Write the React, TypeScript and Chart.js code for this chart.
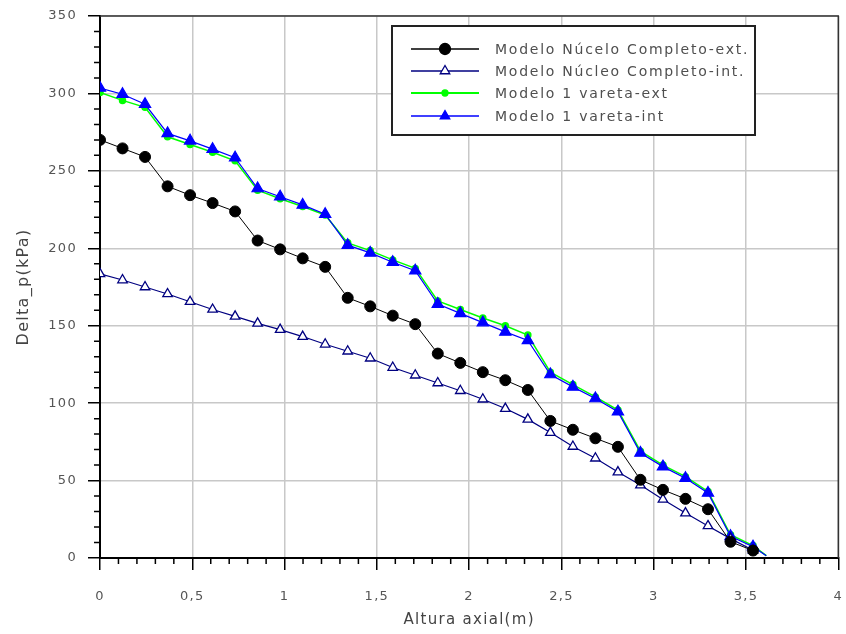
import React, { useEffect, useRef } from "react";
import { Chart, registerables } from "chart.js";

Chart.register(...registerables);

// Axial position of each node (m)
const alturaAxial = [
  0, 0.122, 0.244, 0.366, 0.488, 0.61, 0.732, 0.854, 0.976, 1.098, 1.22, 1.342, 1.464, 1.586, 1.708,
  1.83, 1.952, 2.074, 2.196, 2.318, 2.44, 2.562, 2.684, 2.806, 2.928, 3.05, 3.172, 3.294, 3.416, 3.538,
];
// Single-rod model has one extra end node (outlet)
const alturaVareta = [...alturaAxial, 3.61];

// Delta_p (kPa)
const nucleoExt = [
  270, 264.5, 259, 240, 234.3, 229.2, 223.8, 205, 199.3, 193.5, 188, 168, 162.5, 156.5, 151, 132, 126,
  120, 114.8, 108.5, 88.5, 82.8, 77.3, 71.8, 50.5, 44, 38.2, 31.5, 10.5, 4.8,
];
const nucleoInt = [
  183.5, 179.5, 175, 170.5, 165.5, 160.5, 156, 151.5, 147.5, 143, 138, 133.5, 129, 123, 118, 113, 108,
  102.5, 96.5, 89.5, 81, 72, 64.4, 55.5, 47.1, 37.8, 29, 20.7, 12.5, 5,
];
const varetaExt = [
  300.6, 295.5, 291, 272, 267, 262, 256.5, 237.5, 232, 227, 221.5, 203.5, 198.5, 192.5, 187, 166, 160.5,
  155, 150, 144, 120, 112, 104, 95.5, 69, 60, 52.5, 43, 15, 8, 1.5,
];
const varetaInt = [
  303.5, 299.5, 293, 274.2, 269.4, 264, 258.5, 238.6, 233.3, 228, 222, 202, 197, 191, 185.5, 164, 158,
  152, 146, 140.5, 118.5, 110.5, 103, 94.5, 67.8, 59, 51.5, 42, 14, 7.3, 1.5,
];

const seriesLabels = [
  "Modelo Núcelo Completo-ext.",
  "Modelo Núcleo Completo-int.",
  "Modelo 1 vareta-ext",
  "Modelo 1 vareta-int",
];

const X_MAX = 4;
const Y_MAX = 350;

const pairs = (xs: number[], ys: number[]) => ys.map((y, i) => ({ x: xs[i], y }));

type Marker = { shape: "circle" | "triangle"; r: number; fill: string; stroke: string; line: string; lw: number };
const markers: Marker[] = [
  { shape: "circle", r: 5.5, fill: "#000000", stroke: "#000000", line: "#000000", lw: 1 },
  { shape: "triangle", r: 5.5, fill: "#ffffff", stroke: "#000080", line: "#000080", lw: 1.2 },
  { shape: "circle", r: 3, fill: "#00ff00", stroke: "#00ff00", line: "#00ff00", lw: 1.5 },
  { shape: "triangle", r: 6.5, fill: "#0000ff", stroke: "#0000ff", line: "#0000ff", lw: 1.2 },
];

function drawMarker(ctx: CanvasRenderingContext2D, m: Marker, x: number, y: number) {
  ctx.beginPath();
  if (m.shape === "circle") {
    ctx.arc(x, y, m.r, 0, Math.PI * 2);
  } else {
    const h = m.r * 1.5;
    const s = m.r * Math.sqrt(3);
    ctx.moveTo(x, y - h * 2 / 3);
    ctx.lineTo(x + s / 2, y + h / 3);
    ctx.lineTo(x - s / 2, y + h / 3);
    ctx.closePath();
  }
  ctx.fillStyle = m.fill;
  ctx.fill();
  ctx.strokeStyle = m.stroke;
  ctx.lineWidth = 1.3;
  ctx.stroke();
}

// Letter-spaced text for axes, plus frame, minor ticks and the boxed legend
const decorPlugin = {
  id: "decor",
  beforeDraw(chart: any) {
    chart.ctx.letterSpacing = "1.3px";
  },
  afterDraw(chart: any) {
    const { ctx, chartArea, scales } = chart;
    const { left, right, top, bottom } = chartArea;
    ctx.save();
    // frame top / right
    ctx.strokeStyle = "#333333";
    ctx.lineWidth = 1.5;
    ctx.beginPath();
    ctx.moveTo(left, top);
    ctx.lineTo(right, top);
    ctx.lineTo(right, bottom);
    ctx.stroke();

    // minor ticks
    ctx.strokeStyle = "#000000";
    ctx.lineWidth = 1.5;
    ctx.beginPath();
    for (let k = 1; k < X_MAX * 10; k++) {
      if (k % 5 === 0) continue;
      const px = scales.x.getPixelForValue(k / 10);
      ctx.moveTo(px, bottom);
      ctx.lineTo(px, bottom + 6);
    }
    for (let k = 1; k < Y_MAX / 10; k++) {
      if (k % 5 === 0) continue;
      const py = scales.y.getPixelForValue(k * 10);
      ctx.moveTo(left, py);
      ctx.lineTo(left - 6, py);
    }
    ctx.stroke();

    // legend
    const bx = 392, by = 26, bw = 363, bh = 109;
    ctx.fillStyle = "#ffffff";
    ctx.fillRect(bx, by, bw, bh);
    ctx.strokeStyle = "#222222";
    ctx.lineWidth = 2;
    ctx.strokeRect(bx, by, bw, bh);
    const rows = [49, 71, 93, 116];
    ctx.font = "14px 'DejaVu Sans'";
    ctx.letterSpacing = "1.75px";
    ctx.textBaseline = "middle";
    ctx.textAlign = "left";
    seriesLabels.forEach((lab, i) => {
      const m = markers[i];
      const y = rows[i];
      ctx.strokeStyle = m.line;
      ctx.lineWidth = m.lw + 0.5;
      ctx.beginPath();
      ctx.moveTo(411, y);
      ctx.lineTo(479, y);
      ctx.stroke();
      drawMarker(ctx, { ...m, r: m.shape === "circle" ? m.r : 5.5 }, 445, y);
      ctx.fillStyle = "#4f4f4f";
      ctx.fillText(lab, 495, y + 1);
    });
    ctx.restore();
  },
};

export default function App() {
  const canvasRef = useRef<HTMLCanvasElement | null>(null);

  useEffect(() => {
    if (!canvasRef.current) return;
    Chart.defaults.font.family = "'DejaVu Sans'";
    const lastVareta = alturaVareta.length - 1;

    const chart = new Chart(canvasRef.current, {
      type: "line",
      data: {
        datasets: [
          {
            label: seriesLabels[0],
            data: pairs(alturaAxial, nucleoExt),
            borderColor: markers[0].line,
            borderWidth: markers[0].lw,
            backgroundColor: markers[0].fill,
            pointBorderColor: markers[0].stroke,
            pointStyle: "circle",
            pointRadius: markers[0].r,
            order: 0,
          },
          {
            label: seriesLabels[1],
            data: pairs(alturaAxial, nucleoInt),
            borderColor: markers[1].line,
            borderWidth: markers[1].lw,
            backgroundColor: markers[1].fill,
            pointBorderColor: markers[1].stroke,
            pointBorderWidth: 1.3,
            pointStyle: "triangle",
            pointRadius: markers[1].r,
            order: 1,
          },
          {
            label: seriesLabels[2],
            data: pairs(alturaVareta, varetaExt),
            borderColor: markers[2].line,
            borderWidth: markers[2].lw,
            backgroundColor: markers[2].fill,
            pointBorderColor: markers[2].stroke,
            pointStyle: "circle",
            pointRadius: (c: any) => (c.dataIndex === lastVareta ? 0 : markers[2].r),
            order: 3,
          },
          {
            label: seriesLabels[3],
            data: pairs(alturaVareta, varetaInt),
            borderColor: markers[3].line,
            borderWidth: markers[3].lw,
            backgroundColor: markers[3].fill,
            pointBorderColor: markers[3].stroke,
            pointStyle: "triangle",
            pointRadius: (c: any) => (c.dataIndex === lastVareta ? 0 : markers[3].r),
            order: 2,
          },
        ],
      },
      options: {
        responsive: false,
        animation: false,
        layout: { padding: { top: 16, right: 6, left: 0, bottom: 0 } },
        plugins: {
          legend: { display: false },
          tooltip: { enabled: false },
        },
        elements: { line: { tension: 0 } },
        scales: {
          x: {
            type: "linear",
            min: 0,
            max: X_MAX,
            afterFit: (s: any) => {
              s.height = 76;
              s.paddingLeft = 0;
              s.paddingRight = 0;
            },
            ticks: {
              stepSize: 0.5,
              padding: 19,
              color: "#555555",
              font: { size: 13 },
              maxRotation: 0,
              callback: (v: any) => String(v).replace(".", ","),
            },
            grid: {
              color: "#c8c8c8",
              lineWidth: 1.5,
              drawTicks: true,
              tickLength: 12,
              tickColor: "#000000",
              tickWidth: 1.5,
            },
            border: { display: true, color: "#000000", width: 2 },
            title: {
              display: true,
              text: "Altura axial(m)",
              color: "#444444",
              font: { size: 15 },
              padding: { top: 0, bottom: 5 },
            },
          },
          y: {
            type: "linear",
            min: 0,
            max: Y_MAX,
            afterFit: (s: any) => {
              s.width = 100;
              s.paddingTop = 0;
              s.paddingBottom = 0;
            },
            ticks: {
              stepSize: 50,
              padding: 11,
              color: "#555555",
              font: { size: 13 },
            },
            grid: {
              color: "#c8c8c8",
              lineWidth: 1.5,
              drawTicks: true,
              tickLength: 12,
              tickColor: "#000000",
              tickWidth: 1.5,
            },
            border: { display: true, color: "#000000", width: 2 },
            title: {
              display: true,
              text: "Delta_p(kPa)",
              color: "#444444",
              font: { size: 16 },
              padding: { top: 14, bottom: 0 },
            },
          },
        },
      },
      plugins: [decorPlugin],
    } as any);

    return () => chart.destroy();
  }, []);

  return (
    <div style={{ position: "absolute", left: 0, top: 0, width: 846, height: 634, background: "#ffffff" }}>
      <canvas ref={canvasRef} width={846} height={634} style={{ display: "block" }} />
    </div>
  );
}
